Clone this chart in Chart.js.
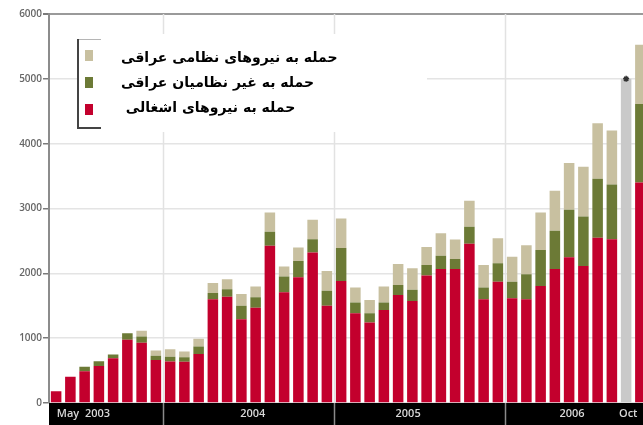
<!DOCTYPE html>
<html>
<head>
<meta charset="utf-8">
<script src="https://cdn.jsdelivr.net/npm/chart.js@4.4.1/dist/chart.umd.min.js"></script>
<style>
    html, body { margin: 0; padding: 0; background: #fff; }
    #wrap { width: 643px; height: 425px; overflow: hidden; }
</style>
</head>
<body>
<div id="wrap"><canvas id="attacksChart" width="653" height="425"></canvas></div>
<script>
//months shown on the x axis (May 2003 - Oct 2006)
const months = [
    "May 03", "Jun 03", "Jul 03", "Aug 03", "Sep 03", "Oct 03", "Nov 03", "Dec 03",
    "Jan 04", "Feb 04", "Mar 04", "Apr 04", "May 04", "Jun 04", "Jul 04", "Aug 04", "Sep 04", "Oct 04", "Nov 04", "Dec 04",
    "Jan 05", "Feb 05", "Mar 05", "Apr 05", "May 05", "Jun 05", "Jul 05", "Aug 05", "Sep 05", "Oct 05", "Nov 05", "Dec 05",
    "Jan 06", "Feb 06", "Mar 06", "Apr 06", "May 06", "Jun 06", "Jul 06", "Aug 06", "Sep 06", "Oct 06"
];

//attacks on occupation forces (red, bottom)
const occupationForces = [
    180, 405, 490, 570, 690, 975, 930, 665,
    640, 635, 755, 1600, 1640, 1290, 1470, 2425, 1710, 1940, 2320, 1500,
    1880, 1385, 1240, 1435, 1665, 1575, 1965, 2065, 2065, 2455, 1600, 1870,
    1615, 1600, 1805, 2065, 2250, 2115, 2550, 2525, null, 3400
];

//attacks on iraqi civilians (green, middle)
const civilians = [
    0, 0, 70, 75, 60, 100, 95, 65,
    75, 70, 115, 95, 115, 210, 160, 215, 240, 250, 205, 230,
    510, 165, 145, 115, 155, 170, 165, 205, 155, 265, 180, 285,
    255, 385, 555, 590, 730, 760, 910, 845, null, 1210
];

//attacks on iraqi security forces (tan, top)
const iraqiForces = [
    0, 0, 0, 0, 0, 0, 90, 80,
    115, 90, 120, 155, 155, 180, 165, 300, 155, 210, 300, 305,
    455, 230, 205, 245, 325, 335, 275, 350, 300, 400, 350, 385,
    385, 450, 580, 620, 720, 770, 855, 835, null, 915
];

//grey highlighted column and its marker
const highlight = [
    null, null, null, null, null, null, null, null,
    null, null, null, null, null, null, null, null, null, null, null, null,
    null, null, null, null, null, null, null, null, null, null, null, null,
    null, null, null, null, null, null, null, null, 5000, null
];

const legendLabels = [
    "حمله به نیروهای نظامی عراقی",
    "حمله به غیر نظامیان عراقی",
    "حمله به نیروهای اشغالی "
];
const legendColors = ["#c8c0a0", "#6c7a36", "#c3002d"];

const bandLabels = ["May  2003", "2004", "2005", "2006", "Oct"];
const yTicks = [0, 1000, 2000, 3000, 4000, 5000, 6000];

//where each band label sits, in month index units, and how it is aligned
const bandLabelAt = [0.05, 13.8, 24.7, 36.2, 39.5];
const bandLabelAlign = ["left", "center", "center", "center", "left"];

//draws the black month band, year lines and the custom legend
const framePlugin = {
    id: "framePlugin",
    afterDraw(chart) {
        const ctx = chart.ctx;
        const area = chart.chartArea;
        const x = chart.scales.x;

        ctx.save();

        //black band under the bars
        ctx.fillStyle = "#000";
        ctx.fillRect(area.left, area.bottom, chart.width - area.left, chart.height - area.bottom);

        //year separators
        ctx.lineWidth = 1.5;
        months.forEach((m, i) => {
            if (i > 0 && m.startsWith("Jan")) {
                let px = Math.round((x.getPixelForValue(i - 1) + x.getPixelForValue(i)) / 2) + 0.5;
                ctx.strokeStyle = "#e2e2e2";
                ctx.beginPath();
                ctx.moveTo(px, area.top);
                ctx.lineTo(px, area.bottom);
                ctx.stroke();
                ctx.strokeStyle = "#8a8a8a";
                ctx.beginPath();
                ctx.moveTo(px, area.bottom);
                ctx.lineTo(px, chart.height);
                ctx.stroke();
            }
        });

        //labels in the band
        ctx.fillStyle = "#d8d8d8";
        ctx.font = "600 11px 'Open Sans'";
        ctx.textBaseline = "middle";
        bandLabels.forEach((label, i) => {
            ctx.textAlign = bandLabelAlign[i];
            ctx.fillText(label, x.getPixelForValue(bandLabelAt[i]), area.bottom + 11);
        });

        //legend box with shadow
        ctx.fillStyle = "#fff";
        ctx.fillRect(78, 39, 60, 89);
        ctx.strokeStyle = "#b5b5b5";
        ctx.lineWidth = 1;
        ctx.strokeRect(78.5, 39.5, 60, 88);
        ctx.strokeStyle = "#444";
        ctx.lineWidth = 2;
        ctx.beginPath();
        ctx.moveTo(78, 39);
        ctx.lineTo(78, 128);
        ctx.lineTo(140, 128);
        ctx.stroke();

        legendColors.forEach((c, i) => {
            ctx.fillStyle = c;
            ctx.fillRect(85, 50 + i * 27, 8, 11);
        });

        //white patch with the persian legend text
        ctx.fillStyle = "#fff";
        ctx.fillRect(101, 34, 326, 98);
        ctx.fillStyle = "#000";
        ctx.font = "bold 14px 'DejaVu Sans'";
        ctx.direction = "rtl";
        ctx.textAlign = "left";
        ctx.textBaseline = "alphabetic";
        legendLabels.forEach((label, i) => {
            ctx.fillText(label, 121, 62 + i * 25);
        });

        ctx.restore();
    }
};

const ctx = document.getElementById("attacksChart").getContext("2d");
const attacksChart = new Chart(ctx, {
    type: "bar",
    data: {
        labels: months,
        datasets: [
            {
                label: legendLabels[2],
                data: occupationForces,
                backgroundColor: "#c3002d",
                stack: "attacks",
            },
            {
                label: legendLabels[1],
                data: civilians,
                backgroundColor: "#6c7a36",
                stack: "attacks",
            },
            {
                label: legendLabels[0],
                data: iraqiForces,
                backgroundColor: "#c8c0a0",
                stack: "attacks",
            },
            {
                label: "highlight",
                data: highlight,
                backgroundColor: "#c9c9c9",
                stack: "attacks",
            },
            {
                type: "line",
                label: "marker",
                data: highlight,
                stack: "marker",
                showLine: false,
                pointStyle: "star",
                pointRadius: 3,
                pointBorderWidth: 1.5,
                pointBorderColor: "#333",
                pointBackgroundColor: "#333",
                order: -1,
            },
        ],
    },
    options: {
        responsive: false,
        animation: false,
        datasets: {
            bar: {
                barPercentage: 0.74,
                categoryPercentage: 1,
                borderWidth: 0,
            },
        },
        layout: {
            padding: { top: 14, left: 0, right: 0, bottom: 0 },
        },
        plugins: {
            legend: { display: false },
            tooltip: { enabled: false },
        },
        scales: {
            x: {
                stacked: true,
                grid: { display: false },
                border: { display: false },
                ticks: { display: false, autoSkip: false },
                afterFit: (scale) => { scale.height = 22; },
            },
            y: {
                stacked: true,
                min: 0,
                max: 6000,
                afterBuildTicks: (scale) => {
                    scale.ticks = yTicks.map((v) => ({ value: v }));
                },
                afterFit: (scale) => { scale.width = 49; },
                border: { color: "#8c8c8c", width: 2 },
                grid: {
                    color: (c) => (c.tick && c.tick.value === 6000 ? "#9a9a9a" : "#e4e4e4"),
                    lineWidth: (c) => (c.tick && c.tick.value === 6000 ? 2 : 1.5),
                    tickColor: "#7a7a7a",
                    tickLength: 6,
                },
                ticks: {
                    color: "#666",
                    padding: 1,
                    font: { family: "'Open Sans'", size: 10, weight: "600" },
                    callback: (v) => String(v),
                },
            },
        },
    },
    plugins: [framePlugin],
});
</script>
</body>
</html>
